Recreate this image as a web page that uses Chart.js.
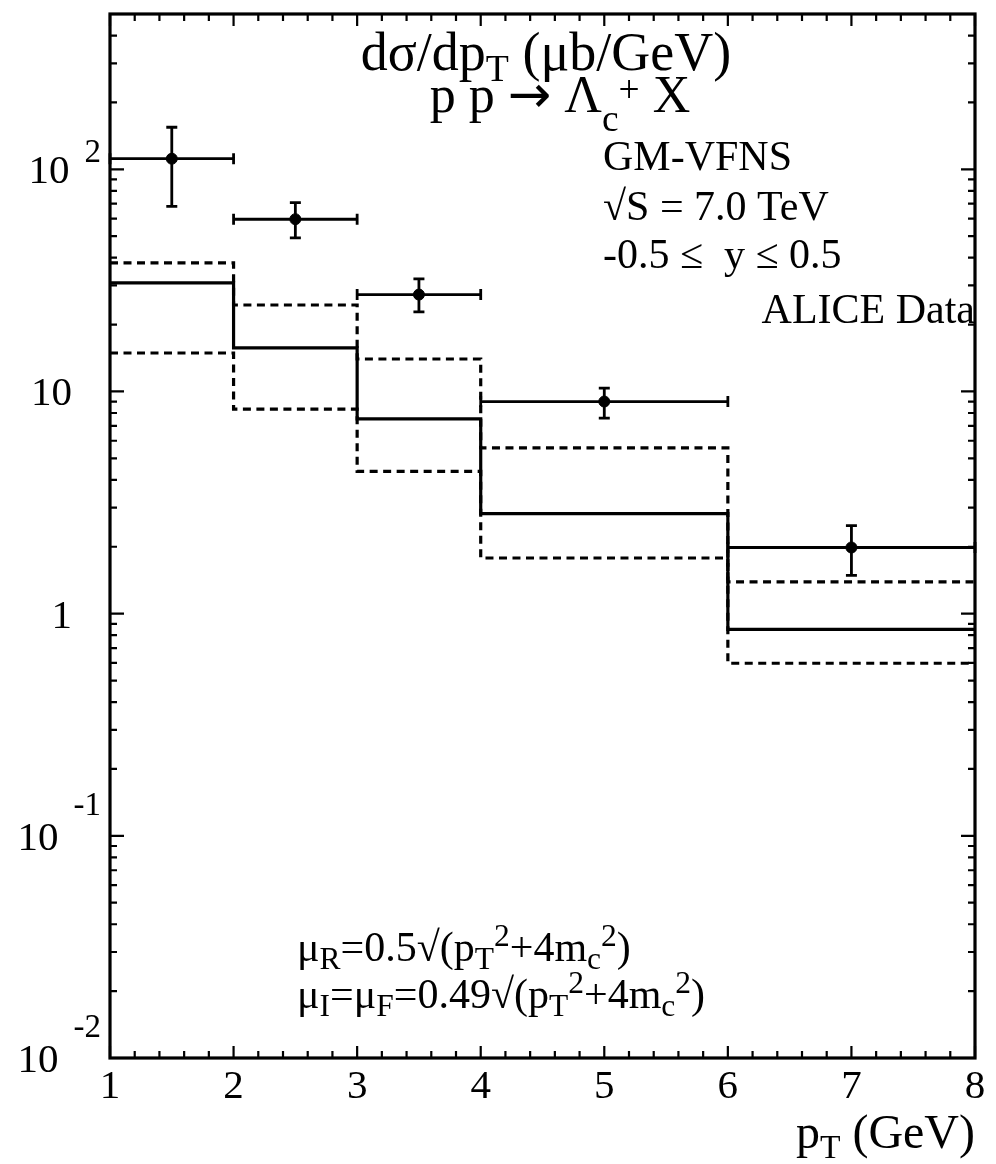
<!doctype html>
<html><head><meta charset="utf-8"/>
<title>Lambda_c pT spectrum</title>
<script src="https://cdn.jsdelivr.net/npm/chart.js@4"></script>
<style>
  html,body{margin:0;padding:0;background:#fff;}
  canvas{display:block;}
</style></head><body>
<canvas id="c" width="996" height="1164"></canvas>
<script>
// bins (GeV) and GM-VFNS predictions (ub/GeV)
const binEdges = [1, 2, 3, 4, 6, 8];
const central = [30.8, 15.7, 7.53, 2.82, 0.85];
const upper = [37.9, 24.5, 14.0, 5.57, 1.39];
const lower = [14.9, 8.33, 4.37, 1.78, 0.598];

// ALICE data points
const aliceX = [1.5, 2.5, 3.5, 5, 7];
const aliceY = [111.6, 59.6, 27.3, 9.01, 1.985];
const aliceLo = [68.1, 49.1, 22.8, 7.59, 1.486];
const aliceHi = [154.6, 70.8, 32.1, 10.35, 2.49];

// axes
const xTickValues = [1, 2, 3, 4, 5, 6, 7, 8];
const xTickLabels = ['1', '2', '3', '4', '5', '6', '7', '8'];
const yTickValues = [0.01, 0.1, 1, 10, 100];
const yTickBase = ['10', '10', '1', '10', '10'];
const yTickExp = ['-2', '-1', '', '', '2'];

const FAM = '"Liberation Serif", "Times New Roman", serif';
const ALT = '"DejaVu Sans", sans-serif';

const steps = (vals) => binEdges.map((x, i) => ({ x, y: vals[Math.min(i, vals.length - 1)] }));

// "a_{b}^{c}~{alt-font}" -> segments
function parseRich(s) {
  const out = [];
  const re = /(_|\^|~)\{([^}]*)\}|([^_^~]+)/g;
  let m;
  while ((m = re.exec(s))) {
    if (m[3]) out.push({ t: m[3], k: '' });
    else out.push({ t: m[2], k: m[1] === '_' ? 'sub' : m[1] === '^' ? 'sup' : 'alt' });
  }
  return out;
}

function drawRich(ctx, str, x, y, size, align, opt) {
  const o = Object.assign({ scale: 0.7, sub: 0.2, sup: 0.38 }, opt || {});
  const fontOf = (p) => p.k === 'alt' ? `${size}px ${ALT}` : `${p.k ? size * o.scale : size}px ${FAM}`;
  const parts = parseRich(str).map((p) => {
    ctx.font = fontOf(p);
    return { ...p, w: ctx.measureText(p.t).width };
  });
  const total = parts.reduce((a, p) => a + p.w, 0);
  let cx = align === 'right' ? x - total : align === 'center' ? x - total / 2 : x;
  ctx.textAlign = 'left';
  ctx.textBaseline = 'alphabetic';
  for (const p of parts) {
    ctx.font = fontOf(p);
    const dy = p.k === 'sub' ? size * o.sub : p.k === 'sup' ? -size * o.sup : 0;
    ctx.fillText(p.t, cx, y + dy);
    cx += p.w;
  }
}

const errorBars = {
  id: 'errorBars',
  afterDatasetsDraw(chart) {
    const { ctx, scales: { x, y } } = chart;
    ctx.save();
    ctx.strokeStyle = '#000';
    ctx.lineWidth = 2.8;
    const cap = 5.5;
    aliceX.forEach((v, i) => {
      const px = x.getPixelForValue(v), py = y.getPixelForValue(aliceY[i]);
      const x0 = x.getPixelForValue(binEdges[i]), x1 = x.getPixelForValue(binEdges[i + 1]);
      const y0 = y.getPixelForValue(aliceLo[i]), y1 = y.getPixelForValue(aliceHi[i]);
      ctx.beginPath();
      ctx.moveTo(x0, py); ctx.lineTo(x1, py);
      ctx.moveTo(x0, py - cap); ctx.lineTo(x0, py + cap);
      ctx.moveTo(x1, py - cap); ctx.lineTo(x1, py + cap);
      ctx.moveTo(px, y0); ctx.lineTo(px, y1);
      ctx.moveTo(px - cap, y0); ctx.lineTo(px + cap, y0);
      ctx.moveTo(px - cap, y1); ctx.lineTo(px + cap, y1);
      ctx.stroke();
    });
    ctx.restore();
  }
};

const frame = {
  id: 'frame',
  afterDraw(chart) {
    const { ctx, chartArea: a, scales: { x, y } } = chart;
    ctx.save();
    ctx.fillStyle = '#000';
    ctx.strokeStyle = '#000';

    // ticks
    ctx.lineWidth = 2.2;
    ctx.beginPath();
    for (let i = 0; i <= 35; i++) {
      const v = 1 + i * 0.2;
      const px = x.getPixelForValue(v);
      const len = i % 5 === 0 ? 12 : 7;
      ctx.moveTo(px, a.bottom); ctx.lineTo(px, a.bottom - len);
      ctx.moveTo(px, a.top); ctx.lineTo(px, a.top + len);
    }
    for (let k = -2; k <= 2; k++) {
      for (let m = 1; m <= 9; m++) {
        const v = m * Math.pow(10, k);
        if (v > y.max) break;
        const py = y.getPixelForValue(v);
        const len = m === 1 ? 14 : 7;
        ctx.moveTo(a.left, py); ctx.lineTo(a.left + len, py);
        ctx.moveTo(a.right, py); ctx.lineTo(a.right - len, py);
      }
    }
    ctx.stroke();

    // frame
    ctx.lineWidth = 3.2;
    ctx.strokeRect(a.left, a.top, a.right - a.left, a.bottom - a.top);

    // x tick labels
    ctx.font = `41px ${FAM}`;
    ctx.textAlign = 'center';
    ctx.textBaseline = 'alphabetic';
    xTickValues.forEach((v, i) => ctx.fillText(xTickLabels[i], x.getPixelForValue(v), 1098));

    // y tick labels
    yTickValues.forEach((v, i) => {
      const py = y.getPixelForValue(v);
      const base = py + 14;
      ctx.textAlign = 'right';
      if (yTickExp[i]) {
        ctx.font = `33px ${FAM}`;
        const w = ctx.measureText(yTickExp[i]).width;
        const up = yTickExp[i].startsWith('-') ? 35 : 21;
        ctx.fillText(yTickExp[i], 101, base - up);
        ctx.font = `41px ${FAM}`;
        ctx.fillText(yTickBase[i], 101 - w - 15, base);
      } else {
        ctx.font = `41px ${FAM}`;
        ctx.fillText(yTickBase[i], 72, base);
      }
    });

    // labels
    drawRich(ctx, 'dσ/dp_{T} (μb/GeV)', 546, 70, 54, 'center');
    drawRich(ctx, 'p p ~{→} Λ_{c}^{+} X', 560, 112, 52, 'center', { scale: 0.72, sub: 0.36, sup: 0.2 });
    drawRich(ctx, 'GM-VFNS', 603, 170, 42, 'left');
    drawRich(ctx, '√S = 7.0 TeV', 603, 220, 42, 'left');
    drawRich(ctx, '-0.5 ≤  y ≤ 0.5', 603, 268, 42, 'left');
    drawRich(ctx, 'ALICE Data', 975, 323, 42, 'right');
    drawRich(ctx, 'μ_{R}=0.5√(p_{T}^{2}+4m_{c}^{2})', 297, 961, 42, 'left', { scale: 0.75, sub: 0.18, sup: 0.36 });
    drawRich(ctx, 'μ_{I}=μ_{F}=0.49√(p_{T}^{2}+4m_{c}^{2})', 297, 1008, 42, 'left', { scale: 0.75, sub: 0.18, sup: 0.36 });
    drawRich(ctx, 'p_{T} (GeV)', 975, 1148, 48, 'right');
    ctx.restore();
  }
};

new Chart(document.getElementById('c'), {
  type: 'line',
  data: {
    datasets: [
      { data: steps(central), borderColor: '#000', borderWidth: 3.2, stepped: true, pointRadius: 0, fill: false },
      { data: steps(upper), borderColor: '#000', borderWidth: 3.2, borderDash: [8, 5.5], stepped: true, pointRadius: 0, fill: false },
      { data: steps(lower), borderColor: '#000', borderWidth: 3.2, borderDash: [8, 5.5], stepped: true, pointRadius: 0, fill: false },
      { data: aliceX.map((v, i) => ({ x: v, y: aliceY[i] })), showLine: false, pointRadius: 5.5,
        pointBackgroundColor: '#000', pointBorderColor: '#000', pointBorderWidth: 1 },
    ]
  },
  options: {
    responsive: false,
    animation: false,
    layout: { padding: { left: 110, right: 21, top: 14, bottom: 106 } },
    plugins: { legend: { display: false }, tooltip: { enabled: false } },
    scales: {
      x: { type: 'linear', min: 1, max: 8, display: false },
      y: { type: 'logarithmic', min: 0.01, max: 500, display: false }
    }
  },
  plugins: [errorBars, frame]
});
</script>
</body></html>
